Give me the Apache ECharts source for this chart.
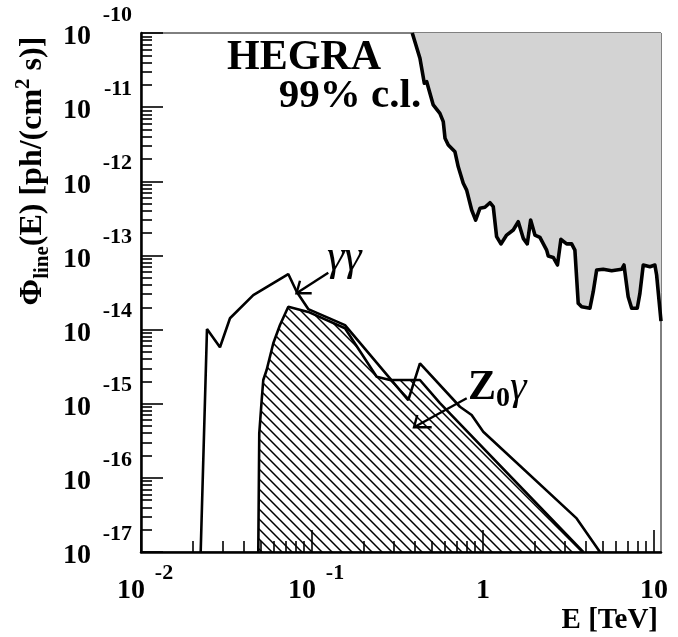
<!DOCTYPE html>
<html>
<head>
<meta charset="utf-8">
<script src="https://cdn.jsdelivr.net/npm/echarts@6/dist/echarts.min.js"></script>
<style>html,body{margin:0;padding:0;background:#fff}#c{width:678px;height:637px}</style>
</head>
<body>
<div id="c"></div>
<script>
// HEGRA 99% c.l. upper limit [E (TeV), flux]
const hegraLimit = [
 [0.386,1e-10],[0.428,4.56e-11],[0.454,2.1e-11],[0.469,2.2e-11],[0.480,1.81e-11],
 [0.512,1.07e-11],[0.560,8.26e-12],[0.586,6.37e-12],[0.600,3.8e-12],[0.627,3.08e-12],
 [0.686,2.5e-12],[0.717,1.57e-12],[0.767,9.4e-13],[0.803,7.6e-13],[0.859,4.1e-13],
 [0.906,3.0e-13],[0.960,4.32e-13],[1.027,4.46e-13],[1.099,5.14e-13],[1.149,4.54e-13],
 [1.202,1.79e-13],[1.274,1.43e-13],[1.376,1.88e-13],[1.504,2.2e-13],[1.609,2.85e-13],
 [1.721,1.7e-13],[1.816,1.43e-13],[1.901,3.0e-13],[2.014,1.88e-13],[2.154,1.75e-13],
 [2.358,1.18e-13],[2.41,9.8e-14],[2.577,9.4e-14],[2.728,7.43e-14],[2.858,1.65e-13],
 [3.087,1.43e-13],[3.302,1.43e-13],[3.45,1.18e-13],[3.608,2.26e-14],[3.778,2.03e-14],
 [4.224,1.94e-14],[4.416,3.24e-14],[4.624,6.36e-14],[5.05,6.5e-14],[5.66,6.22e-14],
 [6.47,6.5e-14],[6.68,7.43e-14],[7.07,2.77e-14],[7.41,1.94e-14],[7.99,1.94e-14],
 [8.28,3.08e-14],[8.66,7.43e-14],[9.48,7.05e-14],[10.13,7.43e-14],[10.37,5.45e-14],
 [11.0,1.3e-14]
];
// gamma-gamma line flux
const gammaGamma = [
 [0.02234,1e-17],[0.02432,1.02e-14],[0.02897,5.77e-15],[0.03315,1.42e-14],[0.04536,2.92e-14],
 [0.07268,5.61e-14],[0.0814,3.24e-14],[0.0951,1.89e-14],[0.156,1.15e-14],[0.3658,1.12e-15],
 [0.428,3.5e-15],[0.7335,9.1e-16],[0.8587,7.05e-16],[1.004,4.19e-16],[3.532,2.84e-17],
 [4.834,1e-17]
];
// Z0-gamma line flux (hatched)
const zGamma = [
 [0.04853,1e-17],[0.04917,3.99e-16],[0.0508,1.12e-15],[0.0519,2.09e-15],[0.0543,2.85e-15],
 [0.0594,6.53e-15],[0.065,1.15e-14],[0.0727,2.03e-14],[0.0951,1.73e-14],[0.156,1.04e-14],
 [0.239,2.31e-15],[0.2858,2.09e-15],[0.428,2.09e-15],[0.5605,1.02e-15],[3.86,1e-17]
];
const xMajorTicks = [0.01, 0.1, 1, 10];
const yMajorTicks = [1e-17,1e-16,1e-15,1e-14,1e-13,1e-12,1e-11,1e-10];
const xMinorTicks = [];
for (let e = -2; e <= 0; e++) for (let k = 2; k <= 9; k++) xMinorTicks.push(k * Math.pow(10, e));
const yMinorTicks = [];
for (let e = -17; e <= -11; e++) for (let k = 2; k <= 9; k++) yMinorTicks.push(k * Math.pow(10, e));

const FF = '"Liberation Serif", "Times New Roman", serif';

function hatchPattern() {
  const s = 10;
  const cv = document.createElement('canvas');
  cv.width = s; cv.height = s;
  const ctx = cv.getContext('2d');
  ctx.strokeStyle = '#000';
  ctx.lineWidth = 1.5;
  ctx.beginPath();
  ctx.moveTo(-1, -1); ctx.lineTo(s + 1, s + 1);
  ctx.moveTo(s - 2, -2); ctx.lineTo(s + 2, 2);
  ctx.moveTo(-2, s - 2); ctx.lineTo(2, s + 2);
  ctx.stroke();
  return { image: cv, repeat: 'repeat' };
}

function expOf(v) { return Math.round(Math.log10(v)); }

const chart = echarts.init(document.getElementById('c'), null, { renderer: 'canvas' });
const xmin = 0.01, xmax = 11, ymin = 1e-17, ymax = 1e-10;
const lblRichX = {
  s: { fontSize: 22, fontWeight: 'bold', fontFamily: FF, color: '#000', lineHeight: 20, padding: [0, 0, 0, 46] },
  b: { fontSize: 28, fontWeight: 'bold', fontFamily: FF, color: '#000', lineHeight: 16, padding: [0, 20, 0, 0] },
  e: { fontSize: 10, lineHeight: 20 },
  c: { fontSize: 28, fontWeight: 'bold', fontFamily: FF, color: '#000', lineHeight: 16 }
};
const lblRichY = {
  s: { fontSize: 22, fontWeight: 'bold', fontFamily: FF, color: '#000', lineHeight: 20 },
  b: { fontSize: 28, fontWeight: 'bold', fontFamily: FF, color: '#000', lineHeight: 24, padding: [0, 41, 0, 0] }
};

const option = {
  animation: false,
  backgroundColor: '#fff',
  grid: { left: 141, top: 33, right: 17, bottom: 85, show: true, borderColor: '#000', borderWidth: 1, backgroundColor: 'transparent' },
  xAxis: [
    {
      type: 'log', logBase: 10, min: xmin, max: xmax, position: 'bottom',
      axisLine: { show: true, onZero: false, lineStyle: { color: '#000', width: 2.5 } },
      axisTick: { show: true, inside: true, length: 22, customValues: xMajorTicks, lineStyle: { color: '#000', width: 1.6 } },
      minorTick: { show: false },
      splitLine: { show: false },
      axisLabel: {
        show: true, margin: 11, customValues: xMajorTicks,
        formatter: function (v) {
          const e = expOf(v);
          if (e < 0) return '{s|' + e + '}\n{b|10}';
          return '{e| }\n{c|' + (e === 0 ? '1' : '10') + '}';
        },
        rich: lblRichX
      }
    },
    {
      type: 'log', logBase: 10, min: xmin, max: xmax, position: 'bottom', offset: 0,
      axisLine: { show: false },
      axisTick: { show: true, inside: true, length: 11, customValues: xMinorTicks, lineStyle: { color: '#000', width: 1.6 } },
      splitLine: { show: false },
      axisLabel: { show: false }
    }
  ],
  yAxis: [
    {
      type: 'log', logBase: 10, min: ymin, max: ymax, position: 'left',
      axisLine: { show: true, onZero: false, lineStyle: { color: '#000', width: 2.5 } },
      axisTick: { show: true, inside: true, length: 22, customValues: yMajorTicks, lineStyle: { color: '#000', width: 1.6 } },
      splitLine: { show: false },
      axisLabel: {
        show: true, margin: 9, customValues: yMajorTicks, padding: [0, 0, 12, 0],
        formatter: function (v) { return '{s|' + expOf(v) + '}\n{b|10}'; },
        rich: lblRichY
      }
    },
    {
      type: 'log', logBase: 10, min: ymin, max: ymax, position: 'left', offset: 0,
      axisLine: { show: false },
      axisTick: { show: true, inside: true, length: 11, customValues: yMinorTicks, lineStyle: { color: '#000', width: 1.6 } },
      splitLine: { show: false },
      axisLabel: { show: false }
    }
  ],
  series: [
    {
      name: 'HEGRA limit', type: 'line', data: hegraLimit, xAxisIndex: 0, yAxisIndex: 0,
      symbol: 'none', z: 2,
      lineStyle: { color: '#000', width: 3.6, join: 'round' },
      areaStyle: { color: '#d3d3d3', opacity: 1, origin: 'end' }
    },
    {
      name: 'Z0 gamma', type: 'line', data: zGamma, xAxisIndex: 0, yAxisIndex: 0,
      symbol: 'none', z: 3,
      lineStyle: { color: '#000', width: 2.6 },
      areaStyle: { color: hatchPattern(), opacity: 1, origin: 'start' }
    },
    {
      name: 'gamma gamma', type: 'line', data: gammaGamma, xAxisIndex: 0, yAxisIndex: 0,
      symbol: 'none', z: 4,
      lineStyle: { color: '#000', width: 2.6 }
    }
  ],
  graphic: [
    { type: 'text', x: 33, y: 171, rotation: Math.PI / 2, z: 10,
      style: {
        text: '{a|\u03A6}{sub|line}{a|(E) [ph/(cm}{sup|2}{a| s)]}',
        align: 'center', verticalAlign: 'middle',
        rich: {
          a: { fontSize: 32, fontWeight: 'bold', fontFamily: FF, fill: '#000', lineHeight: 40, verticalAlign: 'middle' },
          sub: { fontSize: 21, fontWeight: 'bold', fontFamily: FF, fill: '#000', lineHeight: 20, verticalAlign: 'bottom' },
          sup: { fontSize: 21, fontWeight: 'bold', fontFamily: FF, fill: '#000', lineHeight: 20, verticalAlign: 'top' }
        }
      } },
    { type: 'text', x: 658, y: 621, z: 10,
      style: { text: 'E [TeV]', font: 'bold 29px ' + FF, fill: '#000', align: 'right', verticalAlign: 'middle' } },
    { type: 'text', x: 304, y: 58, z: 10,
      style: { text: 'HEGRA', font: 'bold 42px ' + FF, fill: '#000', align: 'center', verticalAlign: 'middle' } },
    { type: 'text', x: 350, y: 96, z: 10,
      style: { text: '99% c.l.', font: 'bold 41px ' + FF, fill: '#000', align: 'center', verticalAlign: 'middle' } },
    { type: 'text', x: 327, y: 258, z: 10,
      style: { text: '\u03B3\u03B3', font: 'italic 44px ' + FF, fill: '#000', align: 'left', verticalAlign: 'middle' } },
    { type: 'text', x: 468, y: 388, z: 10,
      style: {
        text: '{z|Z}{o|0}{g|\u03B3}', align: 'left', verticalAlign: 'middle',
        rich: {
          z: { fontSize: 42, fontWeight: 'bold', fontFamily: FF, fill: '#000', lineHeight: 50, verticalAlign: 'middle' },
          o: { fontSize: 28, fontWeight: 'bold', fontFamily: FF, fill: '#000', lineHeight: 24, verticalAlign: 'bottom' },
          g: { fontSize: 42, fontFamily: FF, fontStyle: 'italic', fill: '#000', lineHeight: 50, verticalAlign: 'middle' }
        }
      } },
    { type: 'polyline', z: 10, shape: { points: [[328.3, 272.7], [296.5, 293.3]] }, style: { stroke: '#000', lineWidth: 2.4, fill: null } },
    { type: 'polyline', z: 10, shape: { points: [[300, 280.7], [296.5, 293.3], [311.7, 293.3]] }, style: { stroke: '#000', lineWidth: 2.4, fill: null } },
    { type: 'polyline', z: 10, shape: { points: [[466.7, 398.3], [414, 427.3]] }, style: { stroke: '#000', lineWidth: 2.4, fill: null } },
    { type: 'polyline', z: 10, shape: { points: [[417.3, 415], [414, 427.3], [431.7, 427.3]] }, style: { stroke: '#000', lineWidth: 2.4, fill: null } }
  ]
};
chart.setOption(option);
</script>
</body>
</html>
